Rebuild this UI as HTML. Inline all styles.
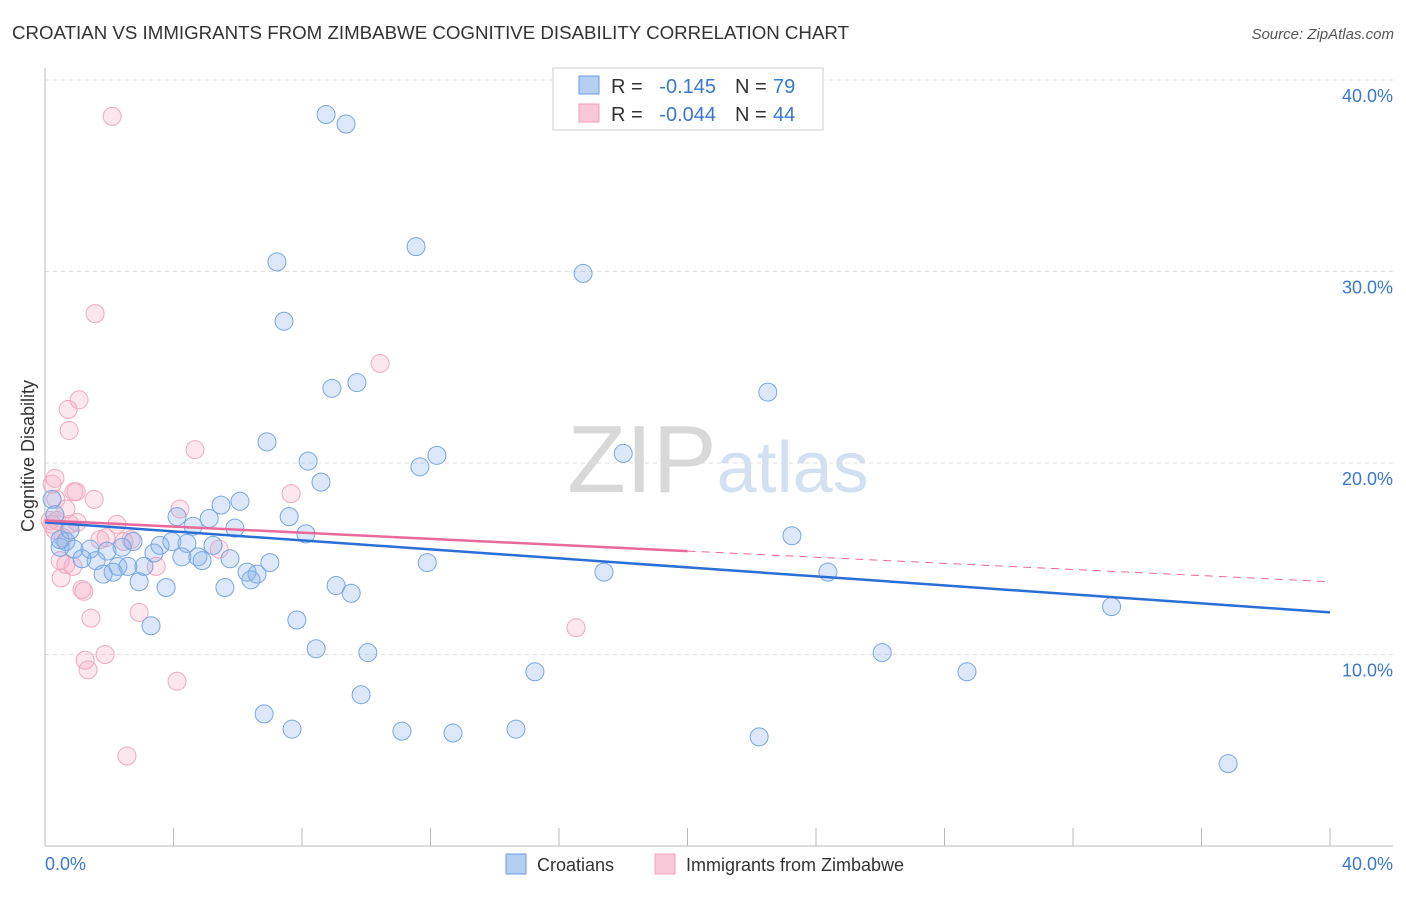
<!DOCTYPE html>
<html><head><meta charset="utf-8"><style>
body{margin:0;background:#fff;font-family:"Liberation Sans",sans-serif;}
svg text{font-family:"Liberation Sans",sans-serif;}
</style></head><body>
<svg id="chart" width="1406" height="892" xmlns="http://www.w3.org/2000/svg">
<text x="12" y="39" font-size="18" fill="#333" textLength="837" lengthAdjust="spacingAndGlyphs">CROATIAN VS IMMIGRANTS FROM ZIMBABWE COGNITIVE DISABILITY CORRELATION CHART</text>
<text x="1394" y="39" font-size="15" fill="#555" text-anchor="end" font-style="italic">Source: ZipAtlas.com</text>
<text x="718" y="492" font-size="96" text-anchor="middle" font-family="Liberation Serif"><tspan fill="#d8d8d8">ZIP</tspan><tspan fill="#d2e0f2" font-family="Liberation Sans" font-size="72">atlas</tspan></text>
<g id="grid"></g><g id="axes"></g><g id="marks"></g>
<text transform="translate(34,456) rotate(-90)" font-size="18" fill="#333" text-anchor="middle">Cognitive Disability</text>
<text x="45" y="870" font-size="18" fill="#3a78d0">0.0%</text>
<text x="1393" y="870" font-size="18" fill="#3a78d0" text-anchor="end">40.0%</text>
<g>
<rect x="553" y="68" width="270" height="62" fill="#fff" stroke="#ccc"/>
<rect x="579" y="76" width="20" height="18" fill="#b5cff2" stroke="#6a9ee0"/>
<rect x="579" y="104" width="20" height="18" fill="#f8c8d8" stroke="#f0a0b8"/>
<text x="611" y="93" font-size="20" fill="#333">R =</text><text x="716" y="93" font-size="20" fill="#3a78d0" text-anchor="end">-0.145</text>
<text x="735" y="93" font-size="20" fill="#333">N =</text><text x="773" y="93" font-size="20" fill="#3a78d0">79</text>
<text x="611" y="121" font-size="20" fill="#333">R =</text><text x="716" y="121" font-size="20" fill="#3a78d0" text-anchor="end">-0.044</text>
<text x="735" y="121" font-size="20" fill="#333">N =</text><text x="773" y="121" font-size="20" fill="#3a78d0">44</text>
</g>
<g>
<rect x="506" y="854" width="20" height="20" fill="#b5cff2" stroke="#6a9ee0"/>
<text x="537" y="871" font-size="18" fill="#333">Croatians</text>
<rect x="655" y="854" width="20" height="20" fill="#f8c8d8" stroke="#f0a0b8"/>
<text x="686" y="871" font-size="18" fill="#333">Immigrants from Zimbabwe</text>
</g>
</svg>
<script>
const yTicks=[10,20,30,40];
const yTickLabels=["10.0%","20.0%","30.0%","40.0%"];
const xTicks=[0,4,8,12,16,20,24,28,32,36,40];
const blueX=[8.75,9.37,11.55,7.22,16.75,7.44,8.93,9.71,22.5,6.91,12.2,11.67,18.0,8.19,8.59,6.07,5.48,5.11,4.11,7.6,5.91,8.12,23.25,4.61,2.74,3.58,3.95,4.42,5.23,2.4,1.93,3.39,4.26,4.76,4.89,5.76,7.0,11.9,0.65,0.47,0.9,1.4,1.15,1.59,2.27,2.58,3.08,1.81,2.12,2.93,3.77,5.6,6.29,6.6,6.41,17.4,24.37,9.06,9.53,7.84,3.3,33.2,8.44,10.05,26.06,15.25,28.7,9.84,6.82,7.69,11.11,12.7,14.66,22.23,36.83,0.22,0.31,0.47,0.78];
const blueY=[38.2,37.7,31.3,30.5,29.9,27.4,23.9,24.2,23.7,21.1,20.4,19.8,20.5,20.1,19.0,18.0,17.8,17.1,17.2,17.2,16.6,16.3,16.2,16.7,15.9,15.7,15.9,15.8,15.7,15.6,15.4,15.3,15.1,15.1,14.9,15.0,14.8,14.8,15.9,15.6,15.5,15.5,15.0,14.9,14.6,14.6,14.6,14.2,14.3,13.8,13.5,13.5,14.3,14.2,13.9,14.3,14.3,13.6,13.2,11.8,11.5,12.5,10.3,10.1,10.1,9.1,9.1,7.9,6.9,6.1,6.0,5.9,6.1,5.7,4.3,18.1,17.3,16.0,16.5];
const pinkX=[2.09,1.56,10.43,1.06,0.72,0.75,4.67,0.31,0.22,0.9,0.97,1.53,4.2,7.66,0.65,0.37,0.22,2.24,1.0,1.9,2.46,2.68,5.42,0.56,0.31,0.65,0.87,3.46,0.5,1.15,1.21,1.43,2.93,1.87,1.25,1.34,4.11,16.53,2.55,0.16,0.47,1.71,0.34,0.78];
const pinkY=[38.1,27.8,25.2,23.3,22.8,21.7,20.7,19.2,18.9,18.5,18.5,18.1,17.6,18.4,17.6,17.0,16.8,16.8,16.9,16.1,15.9,16.0,15.5,16.1,16.5,14.7,14.6,14.6,14.0,13.4,13.3,11.9,12.2,10.0,9.7,9.2,8.6,11.4,4.7,17.0,14.9,16.0,18.1,16.8];
const blueTrend=[[0,16.9],[40,12.2]];
const pinkTrend=[[0,17.0],[20,15.4],[40,13.8]];
const NS="http://www.w3.org/2000/svg";
const sx=v=>45+v/40*1285, sy=v=>846-v*19.15;
function mk(tag,attrs,parent){const e=document.createElementNS(NS,tag);for(const k in attrs)e.setAttribute(k,attrs[k]);parent.appendChild(e);return e;}
const grid=document.getElementById('grid'),axes=document.getElementById('axes'),marks=document.getElementById('marks');
yTicks.forEach((t,i)=>{
 const l=mk('line',{x1:45,x2:1393,y1:sy(t),y2:sy(t),stroke:'#ddd','stroke-dasharray':'4,4'},grid);
 
 
 const tx=mk('text',{x:1393,y:sy(t)+22,'font-size':18,fill:'#3a78d0','text-anchor':'end'},axes);
 tx.textContent=yTickLabels[i];
 
 
});
const ya=mk('line',{x1:45,x2:45,y1:68,y2:846,stroke:'#bbb'},axes);


const xa=mk('line',{x1:45,x2:1393,y1:846,y2:846,stroke:'#bbb'},axes);


xTicks.forEach(t=>{
 const l=mk('line',{x1:sx(t),x2:sx(t),y1:828,y2:846,stroke:'#bbb'},axes);
 
 
});
function pts(X,Y,fill,stroke,name){
 X.forEach((x,i)=>{
  const c=mk('circle',{cx:sx(x),cy:sy(Y[i]),r:9,fill:fill,stroke:stroke,'stroke-width':1},marks);
  
  
 });
}
pts(pinkX,pinkY,'rgba(244,170,195,0.28)','#f2a8c0','zimbabwe-point');
pts(blueX,blueY,'rgba(140,180,235,0.3)','#78a6e2','croatian-point');
const bt=mk('line',{x1:sx(blueTrend[0][0]),y1:sy(blueTrend[0][1]),x2:sx(blueTrend[1][0]),y2:sy(blueTrend[1][1]),stroke:'#2a6fd6','stroke-width':2.5},marks);


const pt=mk('line',{x1:sx(pinkTrend[0][0]),y1:sy(pinkTrend[0][1]),x2:sx(pinkTrend[1][0]),y2:sy(pinkTrend[1][1]),stroke:'#e8699a','stroke-width':2.5},marks);


const pd=mk('line',{x1:sx(pinkTrend[1][0]),y1:sy(pinkTrend[1][1]),x2:sx(pinkTrend[2][0]),y2:sy(pinkTrend[2][1]),stroke:'#e8699a','stroke-width':1,'stroke-dasharray':'8,6'},marks);


</script>
</body></html>
